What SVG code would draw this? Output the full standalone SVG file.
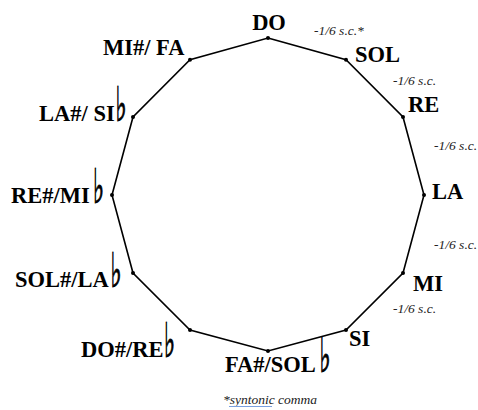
<svg xmlns="http://www.w3.org/2000/svg" width="478" height="410" viewBox="0 0 478 410">
<style>
.n{font-family:"Liberation Serif","Times New Roman",serif;font-weight:bold;font-size:22.5px;fill:#000}
.f{font-family:"DejaVu Sans",sans-serif;font-weight:bold;font-size:30px;fill:#000;stroke:#000;stroke-width:0.6}
.c{font-family:"Liberation Serif","Times New Roman",serif;font-style:italic;font-size:13.5px;fill:#222}
.e{fill:none;stroke:#000;stroke-width:1.6}
.d{fill:#000}
</style>
<rect width="478" height="410" fill="#fff"/>
<g id="connectors">
<polygon class="e" points="268,38 346,59.8 403,117 424,195 403,273 346,330 268,351 190,330 133,273 112,195 133,117 190,59.8"/>
</g>
<g id="DO"><circle class="d" cx="268" cy="38" r="2"/><text class="n" x="269" y="30" text-anchor="middle">DO</text></g>
<g id="SOL"><circle class="d" cx="346" cy="59.8" r="2"/><text class="n" x="355" y="62">SOL</text></g>
<g id="RE"><circle class="d" cx="403" cy="117" r="2"/><text class="n" x="408" y="112">RE</text></g>
<g id="LA"><circle class="d" cx="424" cy="195" r="2"/><text class="n" x="432" y="199">LA</text></g>
<g id="MI"><circle class="d" cx="403" cy="273" r="2"/><text class="n" x="413" y="291">MI</text></g>
<g id="SI"><circle class="d" cx="346" cy="330" r="2"/><text class="n" x="349" y="346">SI</text></g>
<g id="FAsharp"><circle class="d" cx="268" cy="351" r="2"/><text class="n" x="225" y="372">FA#/SOL</text><text class="f" transform="translate(319.5,372) scale(0.8,1.6)">♭</text></g>
<g id="DOsharp"><circle class="d" cx="190" cy="330" r="2"/><text class="n" x="81" y="357">DO#/RE</text><text class="f" transform="translate(164,357) scale(0.8,1.6)">♭</text></g>
<g id="SOLsharp"><circle class="d" cx="133" cy="273" r="2"/><text class="n" x="15" y="287">SOL#/LA</text><text class="f" transform="translate(110.5,287) scale(0.8,1.6)">♭</text></g>
<g id="REsharp"><circle class="d" cx="112" cy="195" r="2"/><text class="n" x="11" y="203">RE#/MI</text><text class="f" transform="translate(93,203) scale(0.8,1.6)">♭</text></g>
<g id="LAsharp"><circle class="d" cx="133" cy="117" r="2"/><text class="n" x="39" y="121">LA#/ SI</text><text class="f" transform="translate(115.5,121) scale(0.8,1.6)">♭</text></g>
<g id="MIsharp"><circle class="d" cx="190" cy="59.8" r="2"/><text class="n" x="103" y="55">MI#/ FA</text></g>
<g id="commas">
<text class="c" x="314" y="35">-1/6 s.c.*</text>
<text class="c" x="393" y="85">-1/6 s.c.</text>
<text class="c" x="434" y="150">-1/6 s.c.</text>
<text class="c" x="434" y="249">-1/6 s.c.</text>
<text class="c" x="393" y="313">-1/6 s.c.</text>
<text class="c" x="223" y="404">*syntonic comma</text>
<line x1="229" y1="406.5" x2="272" y2="406.5" stroke="#7aa0e0" stroke-width="1"/>
</g>
</svg>
